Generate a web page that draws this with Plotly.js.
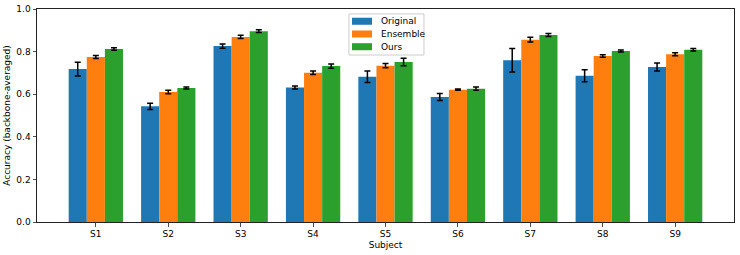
<!DOCTYPE html>
<html>
<head>
<meta charset="utf-8">
<script src="https://cdn.plot.ly/plotly-3.0.1.min.js"></script>
<style>
  html, body { margin: 0; padding: 0; background: #fff; }
  #chart { width: 740px; height: 255px; }
</style>
</head>
<body>
<div id="chart"></div>
<script>
// Subjects on the x axis
const subjects = ["S1", "S2", "S3", "S4", "S5", "S6", "S7", "S8", "S9"];

// Mean accuracy (averaged over backbones) per method
const originalMean = [0.718, 0.543, 0.826, 0.632, 0.682, 0.587, 0.759, 0.687, 0.728];
const ensembleMean = [0.775, 0.610, 0.869, 0.701, 0.734, 0.621, 0.856, 0.779, 0.788];
const oursMean     = [0.812, 0.629, 0.896, 0.732, 0.751, 0.626, 0.878, 0.803, 0.809];

// Spread across backbones (error bar half-length)
const originalErr = [0.032, 0.015, 0.010, 0.007, 0.027, 0.016, 0.055, 0.028, 0.019];
const ensembleErr = [0.007, 0.008, 0.008, 0.008, 0.010, 0.003, 0.011, 0.006, 0.007];
const oursErr     = [0.006, 0.005, 0.006, 0.010, 0.018, 0.008, 0.007, 0.005, 0.006];

const methodNames = ["Original", "Ensemble", "Ours"];
const methodColors = ["#1f77b4", "#ff7f0e", "#2ca02c"];

const FONT = "DejaVu Sans, sans-serif";

function barTrace(i, means, errs) {
  return {
    type: "bar",
    name: methodNames[i],
    x: subjects,
    y: means,
    marker: { color: methodColors[i], line: { width: 0 } },
    error_y: { type: "data", array: errs, visible: true, color: "#000", thickness: 1.5, width: 3 },
    showlegend: false,
    hoverinfo: "x+y"
  };
}

const data = [
  barTrace(0, originalMean, originalErr),
  barTrace(1, ensembleMean, ensembleErr),
  barTrace(2, oursMean, oursErr)
];

// Legend box drawn in paper coordinates: wide colour patches with labels
const legX0 = 0.4476, legX1 = 0.5552, legY1 = 0.977, legY0 = 0.784;
const shapes = [{
  type: "rect", xref: "paper", yref: "paper",
  x0: legX0, x1: legX1, y0: legY0, y1: legY1,
  line: { color: "#cccccc", width: 1 }, fillcolor: "rgba(255,255,255,0.8)", layer: "above"
}];
const annotations = [];
methodNames.forEach((name, i) => {
  const yc = 0.9425 - i * 0.0598;
  shapes.push({
    type: "rect", xref: "paper", yref: "paper",
    x0: 0.4519, x1: 0.4806, y0: yc - 0.0165, y1: yc + 0.0165,
    line: { width: 0 }, fillcolor: methodColors[i], layer: "above"
  });
  annotations.push({
    xref: "paper", yref: "paper", x: 0.4908, y: yc,
    xanchor: "left", yanchor: "middle", showarrow: false,
    text: name, font: { family: FONT, size: 9, color: "#000" }
  });
});

const layout = {
  width: 740,
  height: 255,
  margin: { l: 37, r: 6, t: 9, b: 33, pad: 0 },
  paper_bgcolor: "#fff",
  plot_bgcolor: "#fff",
  barmode: "group",
  bargap: 0.25,
  bargroupgap: 0,
  font: { family: FONT, size: 9, color: "#000" },
  xaxis: {
    type: "category",
    range: [-0.8125, 8.8125],
    showgrid: false,
    zeroline: false,
    showline: true, mirror: true, linecolor: "#222", linewidth: 1,
    ticks: "outside", ticklen: 3.5, tickwidth: 0.8, tickcolor: "#222",
    tickfont: { family: FONT, size: 9, color: "#000" },
    title: { text: "Subject", font: { family: FONT, size: 9, color: "#000" }, standoff: 3 }
  },
  yaxis: {
    range: [0, 1.0],
    tickvals: [0, 0.2, 0.4, 0.6, 0.8, 1.0],
    tickformat: ".1f",
    showgrid: false,
    zeroline: false,
    showline: true, mirror: true, linecolor: "#222", linewidth: 1,
    ticks: "outside", ticklen: 3.5, tickwidth: 0.8, tickcolor: "#222",
    tickfont: { family: FONT, size: 9, color: "#000" },
    title: { text: "Accuracy (backbone-averaged)", font: { family: FONT, size: 9, color: "#000" }, standoff: 4 }
  },
  shapes: shapes,
  annotations: annotations
};

Plotly.newPlot("chart", data, layout, { displayModeBar: false, staticPlot: true });
</script>
</body>
</html>
